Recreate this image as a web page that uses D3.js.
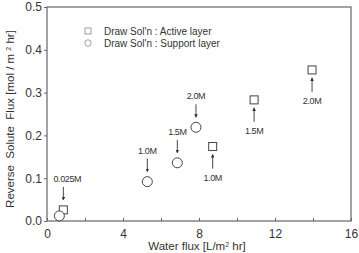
<!DOCTYPE html>
<html>
<head>
<meta charset="utf-8">
<script src="https://cdn.jsdelivr.net/npm/d3@7"></script>
<style>
  body { margin: 0; background: #fff; }
  text { font-family: "Liberation Sans", Arial, sans-serif; fill: #333; }
</style>
</head>
<body>
<div id="chart"></div>
<script>
// data
var activeX = [0.86, 8.72, 10.9, 13.95];
var activeY = [0.026, 0.174, 0.283, 0.353];
var activeLabels = ["0.025M", "1.0M", "1.5M", "2.0M"];
var activeDir = ["down", "up", "up", "up"];

var supportX = [0.65, 5.28, 6.86, 7.84];
var supportY = [0.012, 0.092, 0.136, 0.219];
var supportLabels = ["", "1.0M", "1.5M", "2.0M"];
var supportDir = ["", "down", "down", "down"];

var xTicks = [0, 4, 8, 12, 16];
var yTicks = [0.0, 0.1, 0.2, 0.3, 0.4, 0.5];
var legendNames = ["Draw Sol'n : Active layer", "Draw Sol'n : Support layer"];

var svgWidth = 359, svgHeight = 253;
var margin = {top: 7, right: 8, bottom: 32, left: 47};
var width = svgWidth - margin.left - margin.right;
var height = svgHeight - margin.top - margin.bottom;

var svg = d3.select("#chart").append("svg")
  .attr("width", svgWidth)
  .attr("height", svgHeight);

var chart = svg.append("g")
  .attr("transform", `translate(${margin.left}, ${margin.top})`);

var x = d3.scaleLinear().domain([0, 16]).range([0, width]);
var y = d3.scaleLinear().domain([0, 0.5]).range([height, 0]);

var frameColor = "#666";

// frame
chart.append("rect")
  .attr("width", width).attr("height", height)
  .attr("fill", "none").attr("stroke", frameColor).attr("stroke-width", 1.2);

// x axis (ticks inward, minor ticks between)
var xAxis = chart.append("g")
  .attr("transform", `translate(0, ${height})`)
  .call(d3.axisBottom(x).tickValues(d3.range(0, 17, 2)).tickSize(-3).tickPadding(6)
    .tickFormat(d => xTicks.includes(d) ? d : ""));
xAxis.select(".domain").remove();
xAxis.selectAll("line").attr("stroke", frameColor);
xAxis.selectAll("text").attr("font-size", 12).attr("dy", "0.9em");

// y axis
var yAxis = chart.append("g")
  .call(d3.axisLeft(y).tickValues(yTicks).tickSize(3).tickPadding(2)
    .tickFormat(d3.format(".1f")));
yAxis.select(".domain").remove();
yAxis.selectAll("line").attr("stroke", frameColor);
yAxis.selectAll("text").attr("font-size", 12);

// axis titles
var xt = svg.append("text")
  .attr("x", margin.left + width / 2 - 2)
  .attr("y", 250)
  .attr("text-anchor", "middle")
  .attr("font-size", 11.5);
xt.append("tspan").text("Water flux [L/m");
xt.append("tspan").attr("baseline-shift", "super").attr("font-size", 7).text("2");
xt.append("tspan").text(" hr]");

var yt = svg.append("text")
  .attr("transform", `translate(14, ${margin.top + height / 2 + 5}) rotate(-90)`)
  .attr("text-anchor", "middle")
  .attr("font-size", 11.5)
  .style("white-space", "pre");
yt.append("tspan").text("Reverse  Solute  Flux [mol / m ");
yt.append("tspan").attr("baseline-shift", "super").attr("font-size", 7).text("2");
yt.append("tspan").text(" hr]");

// markers
var active = activeX.map((v, i) => ({x: v, y: activeY[i], label: activeLabels[i], dir: activeDir[i]}));
var support = supportX.map((v, i) => ({x: v, y: supportY[i], label: supportLabels[i], dir: supportDir[i]}));

chart.selectAll(".sq").data(active).enter().append("rect")
  .attr("x", d => x(d.x) - 4).attr("y", d => y(d.y) - 4)
  .attr("width", 8).attr("height", 8)
  .attr("fill", "#fff").attr("stroke", "#444").attr("stroke-width", 1);

chart.selectAll(".ci").data(support).enter().append("circle")
  .attr("cx", d => x(d.x)).attr("cy", d => y(d.y)).attr("r", 5)
  .attr("fill", "#fff").attr("stroke", "#444").attr("stroke-width", 1);

// annotations
var defs = svg.append("defs");
defs.append("marker")
  .attr("id", "head").attr("viewBox", "0 0 6 6")
  .attr("refX", 5).attr("refY", 3)
  .attr("markerWidth", 4).attr("markerHeight", 4)
  .attr("orient", "auto")
  .append("path").attr("d", "M0,0 L6,3 L0,6 Z").attr("fill", "#333");

var notes = active.concat(support).filter(d => d.label);
var ann = chart.selectAll(".ann").data(notes).enter().append("g");
ann.append("line")
  .attr("x1", d => x(d.x)).attr("x2", d => x(d.x))
  .attr("y1", d => d.dir === "down" ? y(d.y) - 23 : y(d.y) + 22)
  .attr("y2", d => d.dir === "down" ? y(d.y) - 10 : y(d.y) + 8)
  .attr("stroke", "#333").attr("stroke-width", 0.9)
  .attr("marker-end", "url(#head)");
ann.append("text")
  .attr("x", d => x(d.x) + (d.label.length > 4 ? 4 : 0))
  .attr("y", d => d.dir === "down" ? y(d.y) - 28 : y(d.y) + 34)
  .attr("text-anchor", "middle")
  .attr("font-size", 9)
  .attr("letter-spacing", -0.4)
  .text(d => d.label);

// legend
var legend = svg.append("g").attr("transform", "translate(88, 31)");
legendNames.forEach(function(name, i) {
  var row = legend.append("g").attr("transform", `translate(0, ${i * 12})`);
  if (i === 0) {
    row.append("rect").attr("x", -3).attr("y", -3).attr("width", 6).attr("height", 6)
      .attr("fill", "#fff").attr("stroke", "#888").attr("stroke-width", 0.8);
  } else {
    row.append("circle").attr("r", 3.2)
      .attr("fill", "#fff").attr("stroke", "#888").attr("stroke-width", 0.8);
  }
  row.append("text").attr("x", 16).attr("y", 3.5).attr("font-size", 10).text(name);
});
</script>
</body>
</html>
